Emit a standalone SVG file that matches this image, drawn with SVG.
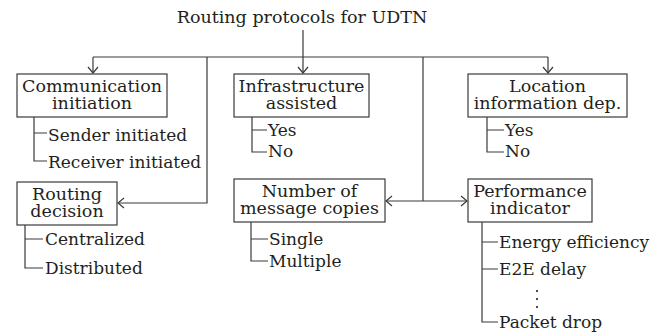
<svg xmlns="http://www.w3.org/2000/svg" width="665" height="336" viewBox="0 0 665 336">
  <style>
    .t { font-family: 'DejaVu Serif', serif; font-size: 17.5px; fill: #231f20; }
    .leaf { font-size: 17px; }
    .c { text-anchor: middle; }
    .box { fill: #ffffff; stroke: #3a3a3a; stroke-width: 1.2; }
    .ln { fill: none; stroke: #3a3a3a; stroke-width: 1.2; }
    .dot { fill: #231f20; }
  </style>
  <defs>
    <marker id="arr" viewBox="0 0 8 12" markerWidth="8" markerHeight="12" refX="7" refY="6" orient="auto" markerUnits="userSpaceOnUse">
      <path d="M1,1 L7,6 L1,11" fill="none" stroke="#3a3a3a" stroke-width="1.2"/>
    </marker>
  </defs>
  <rect width="665" height="336" fill="#ffffff"/>

  <!-- root label -->
  <g id="root" class="t">
    <text x="302" y="23" class="c">Routing protocols for UDTN</text>
  </g>

  <!-- connectors -->
  <g id="connectors">
    <path class="ln" d="M303,30 V73" marker-end="url(#arr)"/>
    <path class="ln" d="M93,57 H548"/>
    <path class="ln" d="M93,57 V73" marker-end="url(#arr)"/>
    <path class="ln" d="M548,57 V73" marker-end="url(#arr)"/>
    <path class="ln" d="M207,57 V203 H118" marker-end="url(#arr)"/>
    <path class="ln" d="M423,57 V201"/>
    <path class="ln" d="M423,201 H386" marker-end="url(#arr)"/>
    <path class="ln" d="M423,201 H467" marker-end="url(#arr)"/>
  </g>

  <!-- communication initiation -->
  <g id="comm" class="t">
    <rect class="box" x="17" y="74" width="150" height="43"/>
    <text x="92" y="91.5" class="c">Communication</text>
    <text x="92" y="109" class="c">initiation</text>
    <path class="ln" d="M34,117 V161 H47 M34,133 H47"/>
    <text x="48" y="141" class="leaf">Sender initiated</text>
    <text x="48" y="168" class="leaf">Receiver initiated</text>
  </g>

  <!-- infrastructure assisted -->
  <g id="infra" class="t">
    <rect class="box" x="234" y="74" width="135" height="43"/>
    <text x="301.5" y="91.5" class="c">Infrastructure</text>
    <text x="301.5" y="109" class="c">assisted</text>
    <path class="ln" d="M252,117 V152 H267 M252,130 H267"/>
    <text x="268" y="136" class="leaf">Yes</text>
    <text x="268" y="157" class="leaf">No</text>
  </g>

  <!-- location information dependency -->
  <g id="location" class="t">
    <rect class="box" x="468" y="74" width="159" height="43"/>
    <text x="547.5" y="91.5" class="c">Location</text>
    <text x="547.5" y="109" class="c">information dep.</text>
    <path class="ln" d="M487,117 V152 H504 M487,130 H504"/>
    <text x="505" y="136" class="leaf">Yes</text>
    <text x="505" y="157" class="leaf">No</text>
  </g>

  <!-- routing decision -->
  <g id="routing" class="t">
    <rect class="box" x="17" y="182" width="100" height="43"/>
    <text x="67" y="199.5" class="c">Routing</text>
    <text x="67" y="217" class="c">decision</text>
    <path class="ln" d="M25,225 V268 H43 M25,239 H43"/>
    <text x="45" y="245" class="leaf">Centralized</text>
    <text x="45" y="274" class="leaf">Distributed</text>
  </g>

  <!-- number of message copies -->
  <g id="copies" class="t">
    <rect class="box" x="234" y="179" width="151" height="43"/>
    <text x="309.5" y="196.5" class="c">Number of</text>
    <text x="309.5" y="214" class="c">message copies</text>
    <path class="ln" d="M251,222 V261 H268 M251,239 H268"/>
    <text x="269" y="245" class="leaf">Single</text>
    <text x="269" y="267" class="leaf">Multiple</text>
  </g>

  <!-- performance indicator -->
  <g id="perf" class="t">
    <rect class="box" x="468" y="179" width="124" height="43"/>
    <text x="530" y="196.5" class="c">Performance</text>
    <text x="530" y="214" class="c">indicator</text>
    <path class="ln" d="M482,222 V322 H498 M482,242 H498 M482,269 H498"/>
    <text x="499" y="248" class="leaf">Energy efficiency</text>
    <text x="499" y="275" class="leaf">E2E delay</text>
    <circle class="dot" cx="537" cy="291" r="1.1"/>
    <circle class="dot" cx="537" cy="299" r="1.1"/>
    <circle class="dot" cx="537" cy="307" r="1.1"/>
    <text x="499" y="328" class="leaf">Packet drop</text>
  </g>
</svg>
